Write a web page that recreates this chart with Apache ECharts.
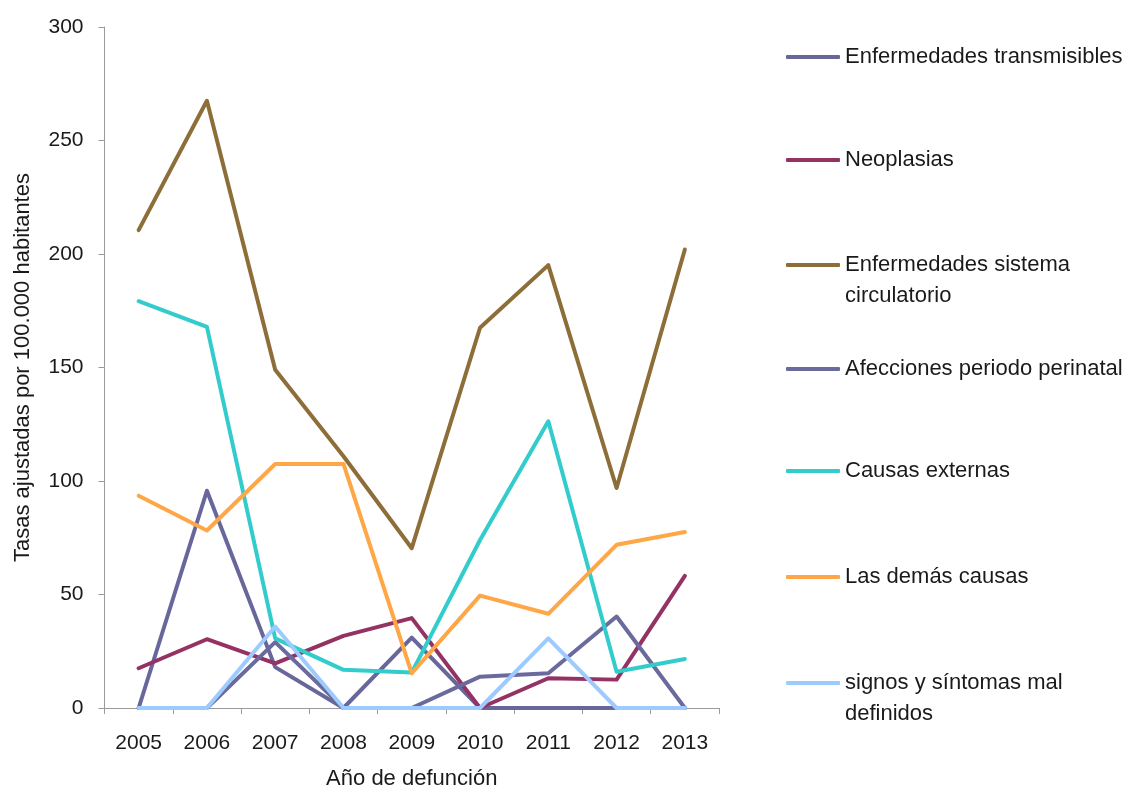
<!DOCTYPE html>
<html>
<head>
<meta charset="utf-8">
<script src="https://cdn.jsdelivr.net/npm/echarts@6/dist/echarts.min.js"></script>
<style>
  html, body { margin: 0; padding: 0; background: #ffffff; }
  #chart { width: 1126px; height: 790px; }
</style>
</head>
<body>
<div id="chart"></div>
<script>
// Años de defunción
const years = ['2005', '2006', '2007', '2008', '2009', '2010', '2011', '2012', '2013'];

// Tasas ajustadas por 100.000 habitantes, por grupo de causas
const transmisibles = [0, 95.7, 18, 0, 31, 0, 0, 0, 0];
const neoplasias = [17.5, 30.3, 19.7, 31.8, 39.6, 0, 13.1, 12.5, 58.2];
const circulatorio = [210.5, 267.5, 149, 110.9, 70.4, 167.5, 195.1, 96.9, 202];
const perinatal = [0, 0, 29, 0, 0, 13.8, 15.3, 40.3, 0];
const externas = [179.2, 167.9, 30.7, 16.8, 15.6, 74, 126.3, 16, 21.6];
const demas = [93.5, 78.2, 107.5, 107.5, 15.3, 49.5, 41.5, 71.9, 77.5];
const signos = [0, 0, 35.9, 0, 0, 0, 30.7, 0, 0];

const seriesNames = [
  'Enfermedades transmisibles',
  'Neoplasias',
  'Enfermedades sistema circulatorio',
  'Afecciones periodo perinatal',
  'Causas externas',
  'Las demás causas',
  'signos y síntomas mal definidos'
];
// Texto de la leyenda; las entradas largas se parten en dos líneas
const legendLabels = [
  ['Enfermedades transmisibles'],
  ['Neoplasias'],
  ['Enfermedades sistema', 'circulatorio'],
  ['Afecciones periodo perinatal'],
  ['Causas externas'],
  ['Las demás causas'],
  ['signos y síntomas mal', 'definidos']
];
const seriesData = [transmisibles, neoplasias, circulatorio, perinatal, externas, demas, signos];
const colors = ['#67679c', '#943263', '#8d6e38', '#6a6a9e', '#33cccc', '#ffa647', '#9dcbff'];

const FONT = '"Liberation Sans", Arial, sans-serif';
const TEXT = '#1a1a1a';
const LINE_H = 31;
const legendCenters = [57, 160, 265, 369, 471, 577, 683];

// Una leyenda por entrada; en las de dos líneas se antepone una línea vacía
// para que el icono quede a la altura de la primera línea de texto.
const legends = seriesNames.map(function (name, i) {
  const lines = legendLabels[i];
  const twoLines = lines.length > 1;
  const label = twoLines ? '\n' + lines.join('\n') : lines[0];
  return {
    orient: 'vertical',
    left: 786,
    top: legendCenters[i] - (twoLines ? 1.5 * LINE_H : 0.5 * LINE_H),
    padding: 0,
    data: [name],
    icon: 'roundRect',
    itemWidth: 54,
    itemHeight: 4,
    selectedMode: false,
    formatter: function () { return label; },
    textStyle: {
      fontFamily: FONT,
      fontSize: 22,
      color: TEXT,
      lineHeight: LINE_H
    }
  };
});

const chart = echarts.init(document.getElementById('chart'), null, { renderer: 'canvas' });
chart.setOption({
  animation: false,
  backgroundColor: '#ffffff',
  color: colors,
  legend: legends,
  grid: {
    left: 104.5, right: 407, top: 27, bottom: 82,
    containLabel: false,
    outerBoundsMode: 'none'
  },
  xAxis: {
    type: 'category',
    data: years,
    boundaryGap: true,
    name: 'Año de defunción',
    nameLocation: 'middle',
    nameGap: 60,
    nameTextStyle: { fontFamily: FONT, fontSize: 22, color: TEXT },
    axisLine: { show: true, lineStyle: { color: '#9a9a9a', width: 1 } },
    axisTick: { show: true, length: 6, alignWithLabel: false, lineStyle: { color: '#9a9a9a' } },
    axisLabel: { fontFamily: FONT, fontSize: 21, color: TEXT, margin: 25 },
    splitLine: { show: false }
  },
  yAxis: {
    type: 'value',
    min: 0,
    max: 300,
    interval: 50,
    name: 'Tasas ajustadas por 100.000 habitantes',
    nameLocation: 'middle',
    nameGap: 71,
    nameTextStyle: { fontFamily: FONT, fontSize: 22, color: TEXT },
    axisLine: { show: true, lineStyle: { color: '#9a9a9a', width: 1 } },
    axisTick: { show: true, length: 6, lineStyle: { color: '#9a9a9a' } },
    axisLabel: { fontFamily: FONT, fontSize: 21, color: TEXT, margin: 21 },
    splitLine: { show: false }
  },
  series: seriesNames.map(function (name, i) {
    return {
      name: name,
      type: 'line',
      data: seriesData[i],
      symbol: 'none',
      lineStyle: { width: 4, color: colors[i], cap: 'round', join: 'round' },
      itemStyle: { color: colors[i] },
      emphasis: { disabled: true }
    };
  })
});
</script>
</body>
</html>
